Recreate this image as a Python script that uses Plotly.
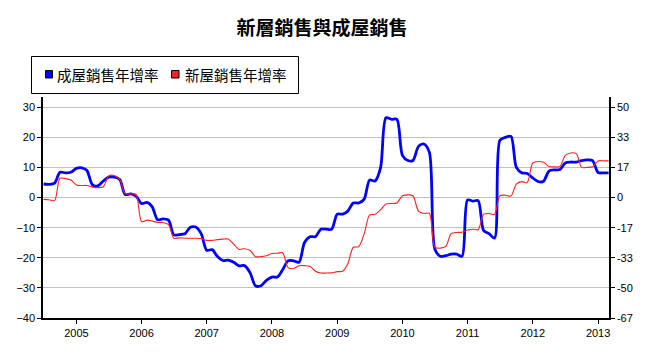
import plotly.graph_objects as go
import pandas as pd

# Monthly dates, Jul 2004 .. Mar 2013
dates = pd.date_range("2004-07-01", "2013-03-01", freq="MS")

# 成屋銷售年增率 (left axis, %)
existing = [
    4.5, 4.4, 4.8, 8.4, 8.2, 8.4, 9.7, 9.9, 9.0, 4.2, 3.9, 5.5,
    6.8, 6.8, 6.0, 1.0, 1.2, 0.5, -2.0, -1.6, -3.0, -7.4, -7.1, -7.5,
    -12.4, -12.3, -12.0, -9.9, -9.8, -12.0, -17.5, -17.3, -19.5, -20.9, -20.8, -21.5,
    -22.7, -22.6, -25.0, -29.3, -29.3, -27.5, -26.4, -26.4, -24.0, -21.0, -21.0, -21.5,
    -15.0, -13.0, -13.0, -10.5, -10.5, -10.5, -5.5, -5.5, -4.5, -1.8, -1.8, -0.5,
    5.8, 5.5, 10.0, 26.5, 26.0, 26.0, 14.0, 12.3, 12.3, 17.0, 17.8, 15.0,
    -17.0, -19.5, -19.3, -18.8, -18.8, -19.5, -0.8, -1.2, -1.0, -11.0, -12.0, -13.5,
    19.0, 20.0, 20.3, 10.0, 8.2, 8.0, 6.5, 5.3, 5.4, 8.8, 9.2, 9.3,
    11.5, 11.8, 11.8, 12.3, 12.5, 12.3, 8.3, 8.2, 8.2,
]

# 新屋銷售年增率 (right axis, %)
new_home = [
    -1.0, -1.2, -1.7, 10.7, 10.5, 9.7, 7.0, 6.7, 6.7, 5.8, 5.5, 6.0,
    12.0, 12.2, 10.0, 2.2, 2.0, 1.7, -13.3, -12.5, -13.0, -13.8, -13.8, -15.0,
    -22.5, -22.3, -22.5, -22.5, -22.5, -22.7, -23.7, -23.7, -23.3, -23.0, -23.0, -25.8,
    -28.7, -28.3, -29.3, -32.7, -32.7, -32.2, -31.0, -30.8, -30.5, -38.8, -39.3, -37.7,
    -37.7, -38.0, -40.8, -41.8, -41.8, -41.7, -41.0, -40.8, -36.7, -27.5, -27.2, -20.0,
    -9.7, -9.3, -6.7, -3.5, -3.3, -3.0, 1.0, 1.5, 1.0, -7.5, -8.8, -8.7,
    -27.5, -28.0, -27.0, -20.0, -19.3, -19.2, -18.0, -17.5, -17.8, -9.2, -8.8, -9.3,
    1.0, 1.3, 0.8, 7.5, 8.8, 8.3, 19.2, 20.0, 19.5, 17.2, 17.0, 17.2,
    23.3, 24.7, 24.3, 16.7, 16.7, 17.0, 20.3, 20.3, 20.3,
]

left_ticks = [-40, -30, -20, -10, 0, 10, 20, 30]
right_tickvals = [-66.67, -50, -33.33, -16.67, 0, 16.67, 33.33, 50]
right_ticktext = ["-67", "-50", "-33", "-17", "0", "17", "33", "50"]
year_ticks = [f"{y}-01-01" for y in range(2005, 2014)]
year_labels = [str(y) for y in range(2005, 2014)]

name_existing = "成屋銷售年增率"
name_new = "新屋銷售年增率"
title_text = "新層銷售與成屋銷售"

W, H = 645, 352
L, R, T, B = 43, 609, 97, 318

fig = go.Figure()
fig.add_trace(go.Scatter(
    x=dates, y=new_home, yaxis="y2", mode="lines", name=name_new,
    line=dict(color="#ff2020", width=1.1, shape="spline", smoothing=0.8),
    showlegend=False,
))
fig.add_trace(go.Scatter(
    x=dates, y=existing, mode="lines", name=name_existing,
    line=dict(color="#0000ff", width=2.8, shape="spline", smoothing=0.8),
    showlegend=False,
))

def px_x(px):
    return (px - L) / (R - L)

def px_y(py):
    return (B - py) / (B - T)

shapes = [
    dict(type="rect", xref="paper", yref="paper",
         x0=px_x(31.5), x1=px_x(298.5), y0=px_y(93.5), y1=px_y(56.5),
         line=dict(color="black", width=1), fillcolor="white", layer="above"),
    dict(type="rect", xref="paper", yref="paper",
         x0=px_x(45.5), x1=px_x(52.5), y0=px_y(78), y1=px_y(70.5),
         line=dict(color="black", width=1), fillcolor="#0000ff", layer="above"),
    dict(type="rect", xref="paper", yref="paper",
         x0=px_x(171.5), x1=px_x(179), y0=px_y(78), y1=px_y(70.5),
         line=dict(color="black", width=1), fillcolor="#ff2020", layer="above"),
]

font_cjk = "Noto Sans CJK TC, Noto Sans CJK SC, sans-serif"
annotations = [
    dict(text=name_existing, xref="paper", yref="paper", x=px_x(55), y=px_y(74.5),
         xanchor="left", yanchor="middle", showarrow=False,
         font=dict(family=font_cjk, size=14.5, color="black")),
    dict(text=name_new, xref="paper", yref="paper", x=px_x(182.5), y=px_y(74.5),
         xanchor="left", yanchor="middle", showarrow=False,
         font=dict(family=font_cjk, size=14.5, color="black")),
]

axis_font = dict(family="Liberation Sans, Arial, sans-serif", size=11, color="black")

fig.update_layout(
    width=W, height=H,
    margin=dict(l=L, r=W - R, t=T, b=H - B),
    paper_bgcolor="white", plot_bgcolor="white",
    title=dict(text="<b>" + title_text + "</b>", x=322 / W, xanchor="center",
               y=1 - 28 / H, yanchor="middle",
               font=dict(family=font_cjk, size=19, color="black")),
    xaxis=dict(
        type="date", range=["2004-06-28", "2013-03-03"],
        tickvals=year_ticks, ticktext=year_labels,
        ticks="outside", ticklen=4, tickcolor="black",
        showline=True, linecolor="black", linewidth=1.5,
        showgrid=False, zeroline=False, tickfont=axis_font,
    ),
    yaxis=dict(
        range=[-40, 33.4], tickvals=left_ticks,
        ticks="outside", ticklen=4, tickcolor="black",
        showline=True, linecolor="black", linewidth=1.5,
        showgrid=True, gridcolor="#c0c0c0", gridwidth=1,
        zeroline=False, tickfont=axis_font,
    ),
    yaxis2=dict(
        range=[-66.67, 55.67], overlaying="y", side="right",
        tickvals=right_tickvals, ticktext=right_ticktext,
        ticks="outside", ticklen=4, tickcolor="black",
        showline=True, linecolor="black", linewidth=1.5,
        showgrid=False, zeroline=False, tickfont=axis_font,
    ),
    shapes=shapes, annotations=annotations,
    showlegend=False,
)

fig.write_html("out.html")
